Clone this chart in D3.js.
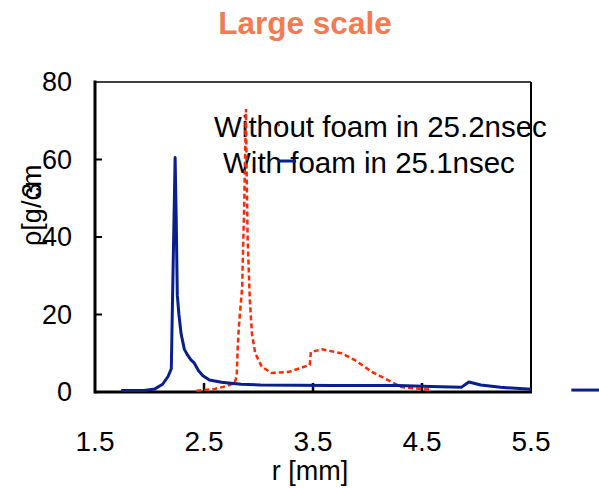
<!DOCTYPE html>
<meta charset="utf-8">
<style>
body { margin: 0; background: #fff; }
svg text { font-family: "Liberation Sans", Arial, Helvetica, sans-serif; fill: #000; }
</style>
<body>
<script src="https://d3js.org/d3.v7.min.js"></script>
<script>

// density profiles
const blueR = [1.74, 1.95, 2.05, 2.12, 2.17, 2.20, 2.21, 2.225, 2.235, 2.245, 2.255, 2.27, 2.29, 2.32, 2.35, 2.38, 2.41, 2.45, 2.49, 2.55, 2.66, 2.84, 3.02, 3.67, 4.28, 4.58, 4.86, 4.93, 5.04, 5.22, 5.50];
const blueV = [0.4, 0.4, 0.8, 2, 4, 6, 22, 45, 60.5, 45, 25, 20, 15, 11, 9.5, 8.3, 7.5, 5.5, 4.2, 3.1, 2.5, 2.0, 1.8, 1.7, 1.7, 1.4, 1.2, 2.6, 1.8, 1.2, 0.7];
const blueTailR = [5.87, 6.14];
const blueTailV = [0.5, 0.5];
const redR = [2.43, 2.60, 2.70, 2.78, 2.80, 2.81, 2.82, 2.85, 2.87, 2.885, 2.89, 2.90, 2.92, 2.94, 2.97, 3.03, 3.12, 3.28, 3.47, 3.48, 3.58, 3.76, 3.88, 4.04, 4.22, 4.31, 4.40, 4.58];
const redV = [0.3, 0.8, 1.5, 2.3, 4, 12, 17, 27, 50, 73, 60, 40, 24, 15, 10, 6.5, 4.9, 5.2, 7, 10.3, 11, 10, 8.3, 5.2, 2.6, 1.3, 1.0, 0.6];

const xTicks = [1.5, 2.5, 3.5, 4.5, 5.5];
const yTicks = [0, 20, 40, 60, 80];
const legendNames = ["Without foam in 25.2nsec", "With foam in 25.1nsec"];

const width = 599, height = 488;
const blue = "#0a1f8f", red = "#ff2a00";

let svg = d3.select("body").append("svg")
    .attr("width", width)
    .attr("height", height);

let x = d3.scaleLinear().domain([1.5, 5.5]).range([95, 531]);
let y = d3.scaleLinear().domain([0, 80]).range([392, 82]);

// title
svg.append("text")
    .attr("x", 305).attr("y", 34)
    .attr("text-anchor", "middle")
    .style("font-size", "31.5px")
    .style("font-weight", "bold")
    .style("fill", "#f27b53")
    .text("Large scale");

// frame
svg.append("line").attr("x1", x(1.5)).attr("x2", x(5.5)).attr("y1", y(80)).attr("y2", y(80))
    .attr("stroke", "#000").attr("stroke-width", 1.5);
svg.append("line").attr("x1", x(5.5)).attr("x2", x(5.5)).attr("y1", y(80)).attr("y2", y(0))
    .attr("stroke", "#000").attr("stroke-width", 2);
svg.append("line").attr("x1", x(1.5)).attr("x2", x(1.5)).attr("y1", y(80) - 1.5).attr("y2", y(0) + 1.5)
    .attr("stroke", "#000").attr("stroke-width", 3);
svg.append("line").attr("x1", x(1.5)).attr("x2", x(5.5) + 1).attr("y1", y(0)).attr("y2", y(0))
    .attr("stroke", "#000").attr("stroke-width", 3);

// inward ticks
svg.append("g").selectAll("line")
    .data(yTicks.slice(1, 4))
    .enter().append("line")
    .attr("x1", x(1.5)).attr("x2", x(1.5) + 7)
    .attr("y1", d => y(d)).attr("y2", d => y(d))
    .attr("stroke", "#000").attr("stroke-width", 2);

svg.append("g").selectAll("line")
    .data(xTicks.slice(1, 4))
    .enter().append("line")
    .attr("x1", d => x(d)).attr("x2", d => x(d))
    .attr("y1", y(0)).attr("y2", y(0) - 9)
    .attr("stroke", "#000").attr("stroke-width", 2.5);

// tick labels
svg.append("g").selectAll("text")
    .data(yTicks)
    .enter().append("text")
    .attr("x", 72).attr("y", d => y(d))
    .attr("dy", "0.35em")
    .attr("text-anchor", "end")
    .style("font-size", "27px")
    .text(d => d);

svg.append("g").selectAll("text")
    .data(xTicks)
    .enter().append("text")
    .attr("x", d => x(d)).attr("y", 451)
    .attr("text-anchor", "middle")
    .style("font-size", "28px")
    .text(d => d.toFixed(1));

// axis titles
svg.append("text")
    .attr("x", 310).attr("y", 480)
    .attr("text-anchor", "middle")
    .style("font-size", "27px")
    .text("r [mm]");

let ylab = svg.append("text")
    .attr("transform", "translate(41,246)rotate(-90)")
    .style("font-size", "27px");
ylab.append("tspan").text("ρ[g/cm");
ylab.append("tspan").attr("dx", -33).text("3");

// legend text
svg.append("g").selectAll("text")
    .data(legendNames)
    .enter().append("text")
    .attr("x", (d, i) => i ? 223 : 214)
    .attr("y", (d, i) => i ? 173 : 137)
    .style("font-size", "29.5px")
    .text(d => d);

// curves
let line = d3.line()
    .x(d => x(d[0]))
    .y(d => y(d[1]));

svg.append("path")
    .datum(redR.map((r, i) => [r, redV[i]]))
    .attr("d", line)
    .attr("fill", "none")
    .attr("stroke", red)
    .attr("stroke-width", 2.5)
    .attr("stroke-dasharray", "5,3");

svg.append("path")
    .datum(blueR.map((r, i) => [r, blueV[i]]))
    .attr("d", line)
    .attr("fill", "none")
    .attr("stroke", blue)
    .attr("stroke-width", 3)
    .attr("stroke-linejoin", "round");

svg.append("path")
    .datum(blueTailR.map((r, i) => [r, blueTailV[i]]))
    .attr("d", line)
    .attr("fill", "none")
    .attr("stroke", blue)
    .attr("stroke-width", 3);

// legend samples
svg.append("line").attr("x1", 278).attr("x2", 296).attr("y1", 125).attr("y2", 125)
    .attr("stroke", red).attr("stroke-width", 2.5).attr("stroke-dasharray", "2,16");
svg.append("line").attr("x1", 278).attr("x2", 296).attr("y1", 161).attr("y2", 161)
    .attr("stroke", blue).attr("stroke-width", 3);

</script>
